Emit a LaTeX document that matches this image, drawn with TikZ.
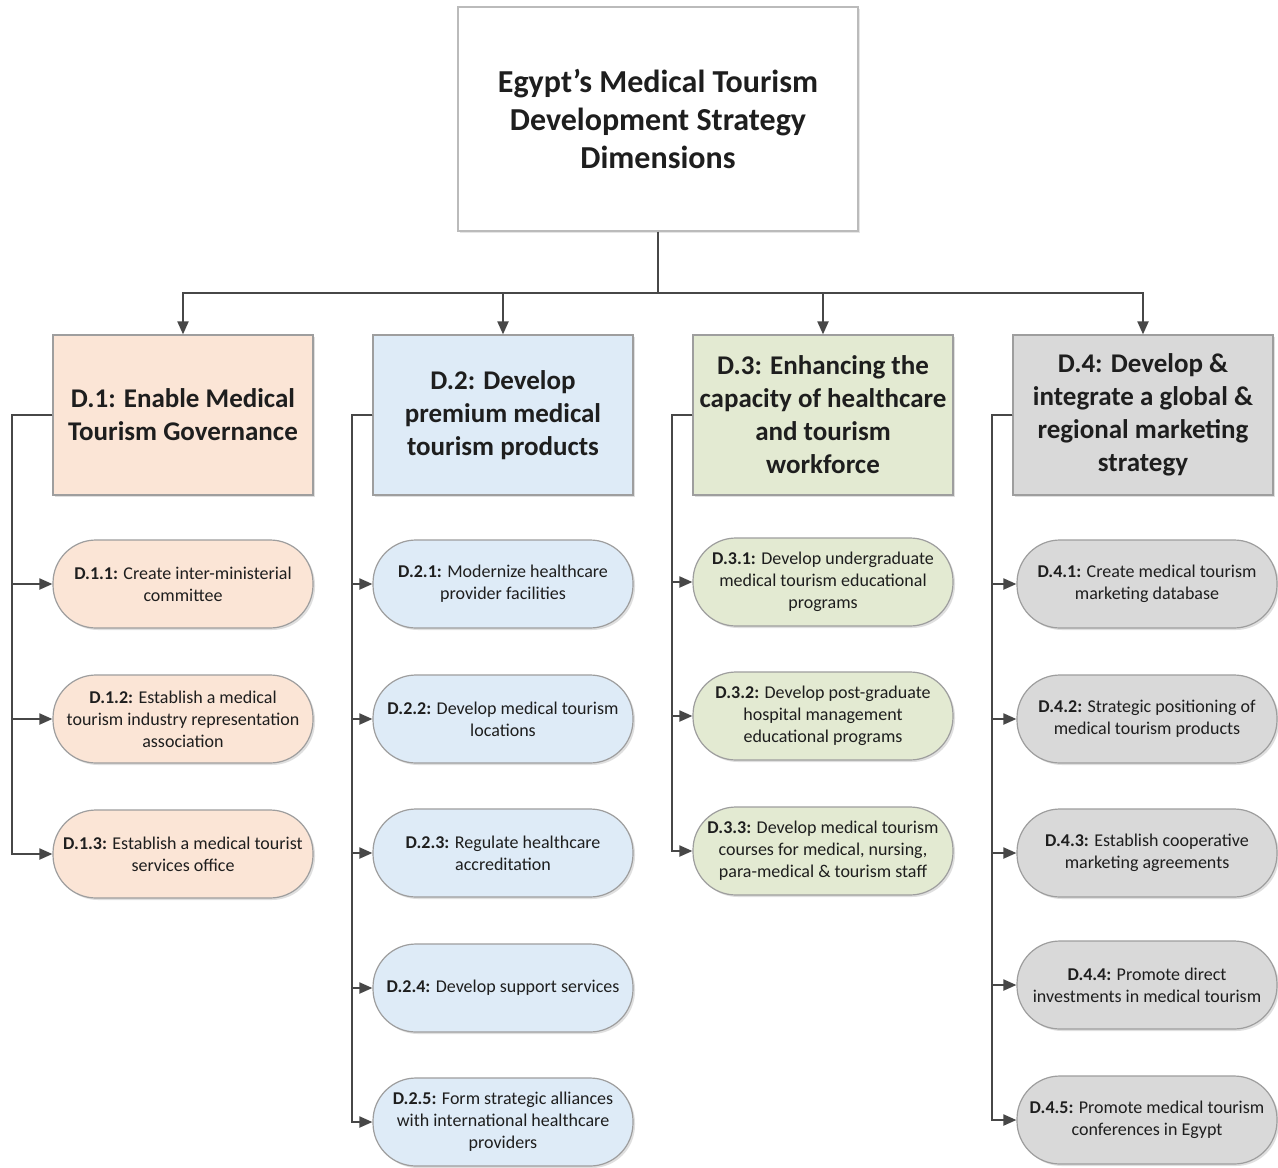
\documentclass[tikz,border=0pt]{standalone}
\usepackage{fontspec}
\setmainfont{Carlito}
\usetikzlibrary{arrows.meta,shadows}
\definecolor{cA}{HTML}{FBE5D6}
\definecolor{cB}{HTML}{DEEBF7}
\definecolor{cC}{HTML}{E3EAD2}
\definecolor{cD}{HTML}{D9D9D9}
\definecolor{bord}{HTML}{9E9E9E}
\definecolor{linec}{HTML}{474747}
\definecolor{txt}{HTML}{1E1E1E}
\tikzset{
  topbox/.style={draw=bord!70, line width=1.2pt, fill=white, minimum width=400pt, minimum height=224pt,
    align=center, text=txt, font=\bfseries\fontsize{32}{38}\selectfont,
    drop shadow={shadow xshift=1.5pt, shadow yshift=-1.5pt, opacity=0.2}},
  dimbox/.style={draw=bord, line width=1.2pt, minimum width=260pt, minimum height=160pt,
    align=center, text=txt, font=\bfseries\fontsize{27}{33}\selectfont, inner sep=1pt,
    drop shadow={shadow xshift=2pt, shadow yshift=-2pt, opacity=0.25}},
  subbox/.style={draw=bord, line width=1.2pt, minimum width=260pt, minimum height=88pt,
    rounded corners=43pt, align=center, text=txt, font=\fontsize{18}{22}\selectfont, inner sep=0pt,
    drop shadow={shadow xshift=2pt, shadow yshift=-2pt, opacity=0.25}},
  conn/.style={draw=linec, line width=2pt},
  arr/.style={conn, -{Triangle[length=13pt,width=11pt]}},
}
\begin{document}
\begin{tikzpicture}[x=1pt,y=-1pt]
\useasboundingbox[fill=white] (0,0) rectangle (1278,1168);

\node[topbox] (top) at (658,119) {Egypt’s Medical Tourism\\Development Strategy\\Dimensions};

\node[dimbox, fill=cA] (d1) at (183,415) {D.1: Enable Medical\\Tourism Governance};
\node[dimbox, fill=cB] (d2) at (503,415) {D.2: Develop\\premium medical\\tourism products};
\node[dimbox, fill=cC] (d3) at (823,415) {D.3: Enhancing the\\capacity of healthcare\\and tourism\\workforce};
\node[dimbox, fill=cD] (d4) at (1143,415) {D.4: Develop \&\\integrate a global \&\\regional marketing\\strategy};

\coordinate (bus) at (658,293);
\draw[conn] (top.south) -- (bus);
\draw[arr] (bus) -| (d1.north);
\draw[arr] (bus) -| (d2.north);
\draw[arr] (bus) -| (d3.north);
\draw[arr] (bus) -| (d4.north);

% D.1 children
\node[subbox, fill=cA] (d11) at (183,584) {\textbf{D.1.1:} Create inter-ministerial\\committee};
\node[subbox, fill=cA] (d12) at (183,719) {\textbf{D.1.2:} Establish a medical\\tourism industry representation\\association};
\node[subbox, fill=cA] (d13) at (183,854) {\textbf{D.1.3:} Establish a medical tourist\\services office};

% D.2 children
\node[subbox, fill=cB] (d21) at (503,584) {\textbf{D.2.1:} Modernize healthcare\\provider facilities};
\node[subbox, fill=cB] (d22) at (503,719) {\textbf{D.2.2:} Develop medical tourism\\locations};
\node[subbox, fill=cB] (d23) at (503,853) {\textbf{D.2.3:} Regulate healthcare\\accreditation};
\node[subbox, fill=cB] (d24) at (503,988) {\textbf{D.2.4:} Develop support services};
\node[subbox, fill=cB] (d25) at (503,1122) {\textbf{D.2.5:} Form strategic alliances\\with international healthcare\\providers};

% D.3 children
\node[subbox, fill=cC] (d31) at (823,582) {\textbf{D.3.1:} Develop undergraduate\\medical tourism educational\\programs};
\node[subbox, fill=cC] (d32) at (823,716) {\textbf{D.3.2:} Develop post-graduate\\hospital management\\educational programs};
\node[subbox, fill=cC] (d33) at (823,851) {\textbf{D.3.3:} Develop medical tourism\\courses for medical, nursing,\\para-medical \& tourism staff};

% D.4 children
\node[subbox, fill=cD] (d41) at (1147,584) {\textbf{D.4.1:} Create medical tourism\\marketing database};
\node[subbox, fill=cD] (d42) at (1147,719) {\textbf{D.4.2:} Strategic positioning of\\medical tourism products};
\node[subbox, fill=cD] (d43) at (1147,853) {\textbf{D.4.3:} Establish cooperative\\marketing agreements};
\node[subbox, fill=cD] (d44) at (1147,985) {\textbf{D.4.4:} Promote direct\\investments in medical tourism};
\node[subbox, fill=cD] (d45) at (1147,1120) {\textbf{D.4.5:} Promote medical tourism\\conferences in Egypt};

\coordinate (s1) at (12,415);
\coordinate (s2) at (352,415);
\coordinate (s3) at (672,415);
\coordinate (s4) at (992,415);

\foreach \c in {d11,d12,d13} \draw[arr] (d1.west) -- (s1) |- (\c.west);
\foreach \c in {d21,d22,d23,d24,d25} \draw[arr] (d2.west) -- (s2) |- (\c.west);
\foreach \c in {d31,d32,d33} \draw[arr] (d3.west) -- (s3) |- (\c.west);
\foreach \c in {d41,d42,d43,d44,d45} \draw[arr] (d4.west) -- (s4) |- (\c.west);
\end{tikzpicture}
\end{document}
